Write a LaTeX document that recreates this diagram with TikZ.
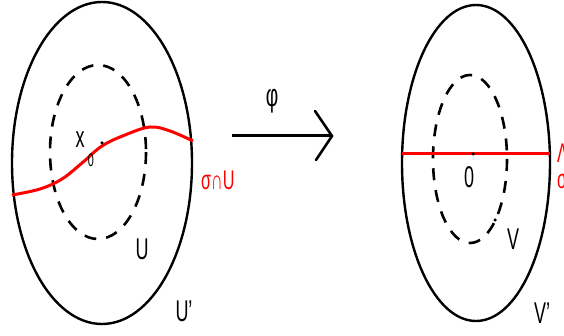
\documentclass[tikz,border=0pt]{standalone}
\usepackage{fontspec}
\setmainfont{Liberation Sans}[Ligatures=ResetAll]
\begin{document}
\begin{tikzpicture}[x=1pt,y=-1pt,
  outer/.style={draw=black,line width=2.4pt},
  inner/.style={draw=black,line width=2.6pt,dash pattern=on 12pt off 10pt},
  redline/.style={draw=red,line width=3pt},
  lbl/.style={inner sep=0pt,xscale=0.6,font=\fontsize{30}{30}\selectfont},
  rlbl/.style={lbl,text=red,font=\fontsize{27}{27}\selectfont},
  dotm/.style={circle,fill=black,inner sep=0pt,minimum size=3.5pt}]
\useasboundingbox (0,0) rectangle (564,336);
% left picture
\draw[outer] (102,163) ellipse [x radius=90, y radius=161];
\draw[inner] (98,152) ellipse [x radius=48, y radius=87];
\draw[redline] plot[smooth,tension=0.6] coordinates {(12,195) (40,189) (62,179) (82,163) (102,146) (125,135) (150,127) (170,131) (193,141)};
\node[dotm] (x0) at (102,143) {};
\node[lbl] (xl) at (80,140) {x};
\node[lbl,font=\fontsize{18}{18}\selectfont] (xs) at (91,160) {0};
\node[lbl] (Ul) at (142,249) {U};
\node[lbl] (Upl) at (184,311) {U'};
\node[rlbl,anchor=west] (sl) at (201,180) {σ∩U};
% arrow
\coordinate (a0) at (232,136);
\coordinate (a1) at (332,136);
\draw[line width=3pt] (a0) -- (a1);
\draw[line width=2.6pt,line cap=round,line join=miter] (315,111) -- (a1) -- (316,160);
\node[lbl,font=\fontsize{32}{32}\selectfont] (phi) at (272,101) {φ};
% right picture
\draw[outer] (476,163) ellipse [x radius=74, y radius=158];
\draw[inner] (470,159) ellipse [x radius=37, y radius=84];
\draw[redline] (402,154) -- (550,154);
\node[dotm] (o) at (473,154) {};
\node[dotm] (vd) at (495,220) {};
\node[lbl] (zero) at (469,177) {0};
\node[lbl] (Vl) at (513,239) {V};
\node[lbl] (Vpl) at (542,313) {V'};
\node[rlbl,anchor=west] (r1) at (557,153) {Λ};
\node[rlbl,anchor=west] (r2) at (557,182) {σ};
\end{tikzpicture}
\end{document}
